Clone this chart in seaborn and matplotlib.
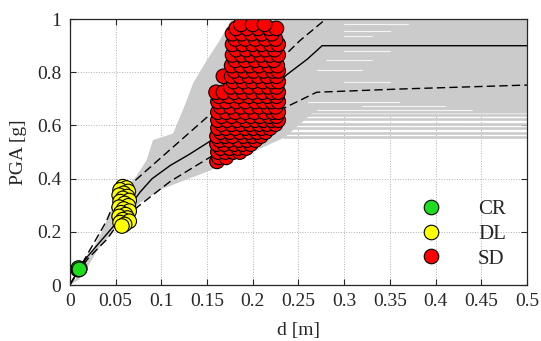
import numpy as np
import pandas as pd
import matplotlib
matplotlib.use("Agg")
import matplotlib.pyplot as plt
import seaborn as sns

# gray band of the IDA curves (outline)
env_d = [0.0, 0.008, 0.02, 0.035, 0.045, 0.058, 0.073, 0.084, 0.091, 0.113, 0.128,
         0.135, 0.15, 0.164, 0.177, 0.5, 0.5, 0.265, 0.235, 0.2, 0.153, 0.1,
         0.077, 0.06, 0.049, 0.03, 0.02, 0.01]
env_pga = [0.0, 0.03, 0.10, 0.20, 0.28, 0.35, 0.41, 0.47, 0.545, 0.57, 0.695,
           0.76, 0.846, 0.92, 1.0, 1.0, 0.645, 0.645, 0.555, 0.50, 0.43, 0.36,
           0.31, 0.25, 0.21, 0.13, 0.07, 0.02]

# curves that collapse at low PGA (horizontal tails)
low_curves_d = [[0.233, 0.5], [0.238, 0.5], [0.243, 0.5], [0.248, 0.5], [0.253, 0.5], [0.258, 0.5]]
low_curves_pga = [[0.556, 0.556], [0.571, 0.571], [0.59, 0.59], [0.605, 0.605], [0.624, 0.624], [0.64, 0.64]]

# gaps between curves inside the band
gap_pga = [0.98, 0.955, 0.935, 0.88, 0.845, 0.81, 0.765, 0.69, 0.675, 0.66]
gap_d0 = [0.30, 0.30, 0.30, 0.30, 0.28, 0.27, 0.30, 0.26, 0.32, 0.27]
gap_d1 = [0.37, 0.35, 0.33, 0.35, 0.33, 0.32, 0.35, 0.36, 0.41, 0.44]

# median and 16/84 % fractiles
med_d = [0, 0.01, 0.02, 0.04, 0.06, 0.077, 0.09, 0.11, 0.13, 0.153, 0.2, 0.237, 0.26, 0.276, 0.5]
med_pga = [0, 0.06, 0.11, 0.19, 0.27, 0.35, 0.40, 0.45, 0.49, 0.54, 0.67, 0.79, 0.85, 0.90, 0.90]
p84_d = [0, 0.01, 0.02, 0.04, 0.051, 0.077, 0.11, 0.153, 0.2, 0.237, 0.252, 0.28, 0.29]
p84_pga = [0, 0.06, 0.12, 0.24, 0.33, 0.41, 0.51, 0.64, 0.76, 0.87, 0.92, 1.0, 1.03]
p16_d = [0, 0.01, 0.02, 0.04, 0.055, 0.08, 0.11, 0.153, 0.2, 0.237, 0.252, 0.27, 0.36, 0.5]
p16_pga = [0, 0.055, 0.10, 0.17, 0.24, 0.31, 0.39, 0.48, 0.59, 0.67, 0.695, 0.725, 0.737, 0.752]

# limit state points
cr_d = [0.009, 0.010, 0.011, 0.0095, 0.0105]
cr_pga = [0.058, 0.060, 0.062, 0.064, 0.059]

dl_d = [0.058, 0.062, 0.055, 0.064, 0.059, 0.054, 0.063, 0.058, 0.065, 0.055, 0.060, 0.064,
        0.054, 0.059, 0.065, 0.056, 0.061, 0.054, 0.063, 0.058, 0.065, 0.055, 0.060, 0.057]
dl_pga = [0.370, 0.365, 0.358, 0.352, 0.345, 0.338, 0.333, 0.326, 0.318, 0.314, 0.307, 0.298,
          0.293, 0.286, 0.278, 0.272, 0.265, 0.258, 0.252, 0.246, 0.240, 0.235, 0.228, 0.222]

sd_rows = {
    0.465: [0.161],
    0.48: [0.163, 0.171],
    0.50: [0.162, 0.17, 0.179, 0.186],
    0.515: [0.165, 0.175, 0.184, 0.193],
    0.53: [0.161, 0.169, 0.18, 0.189, 0.198],
    0.545: [0.164, 0.174, 0.185, 0.194, 0.203],
    0.56: [0.161, 0.17, 0.178, 0.19, 0.2, 0.209],
    0.575: [0.165, 0.175, 0.186, 0.196, 0.205, 0.214],
    0.59: [0.162, 0.171, 0.181, 0.192, 0.201, 0.21, 0.219],
    0.605: [0.166, 0.177, 0.187, 0.197, 0.207, 0.216, 0.225],
    0.62: [0.162, 0.172, 0.183, 0.193, 0.203, 0.212, 0.221, 0.228],
    0.635: [0.166, 0.177, 0.188, 0.198, 0.208, 0.218, 0.226],
    0.65: [0.162, 0.171, 0.181, 0.192, 0.202, 0.213, 0.222, 0.228],
    0.67: [0.165, 0.176, 0.187, 0.197, 0.207, 0.217, 0.225],
    0.69: [0.162, 0.171, 0.182, 0.192, 0.203, 0.212, 0.221, 0.228],
    0.71: [0.163, 0.174, 0.185, 0.196, 0.206, 0.216, 0.226],
    0.725: [0.16, 0.168, 0.18, 0.19, 0.2, 0.211, 0.221, 0.228],
    0.745: [0.176, 0.186, 0.196, 0.207, 0.217, 0.226],
    0.765: [0.179, 0.19, 0.2, 0.211, 0.221, 0.228],
    0.785: [0.168, 0.177, 0.186, 0.196, 0.206, 0.216, 0.226],
    0.805: [0.18, 0.191, 0.201, 0.212, 0.222, 0.228],
    0.825: [0.177, 0.187, 0.197, 0.207, 0.218, 0.227],
    0.845: [0.181, 0.192, 0.203, 0.213, 0.223],
    0.865: [0.178, 0.188, 0.198, 0.209, 0.219, 0.228],
    0.885: [0.182, 0.193, 0.204, 0.214, 0.224],
    0.905: [0.178, 0.189, 0.2, 0.21, 0.22, 0.228],
    0.925: [0.181, 0.192, 0.203, 0.214, 0.225],
    0.945: [0.178, 0.188, 0.199, 0.21, 0.221],
    0.965: [0.182, 0.194, 0.206, 0.218, 0.226],
    0.98: [0.187, 0.2, 0.213],
}
sd_d = [d for row in sd_rows.values() for d in row]
sd_pga = [p for p, row in sd_rows.items() for _ in row]

states = ["CR", "DL", "SD"]
colors = {"CR": "#1fdc1f", "DL": "#ffff00", "SD": "#ff0000"}

pts = pd.DataFrame({
    "d": cr_d + dl_d + sd_d,
    "PGA": cr_pga + dl_pga + sd_pga,
    "state": ["CR"] * len(cr_d) + ["DL"] * len(dl_d) + ["SD"] * len(sd_d),
})

sns.set_style("ticks")
plt.rcParams["font.family"] = ["Liberation Serif", "DejaVu Serif"]

fig, ax = plt.subplots(figsize=(5.41, 3.41), dpi=100)
fig.subplots_adjust(left=0.129, right=0.974, bottom=0.164, top=0.944)

gray = "#cbcbcb"
ax.fill(env_d, env_pga, color=gray, lw=0, zorder=1)
for cd, cp in zip(low_curves_d, low_curves_pga):
    ax.plot(cd, cp, color=gray, lw=1.9, zorder=1, solid_capstyle="butt")
for p, d0, d1 in zip(gap_pga, gap_d0, gap_d1):
    ax.plot([d0, d1], [p, p], color="white", lw=0.8, alpha=0.8, zorder=1.1)

ax.plot(med_d, med_pga, color="black", lw=1.0, zorder=2)
ax.plot(p84_d, p84_pga, color="black", lw=1.0, ls=(0, (6, 3)), zorder=2)
ax.plot(p16_d, p16_pga, color="black", lw=1.0, ls=(0, (6, 3)), zorder=2)

sns.scatterplot(data=pts, x="d", y="PGA", hue="state", hue_order=states,
                palette=colors, s=110, edgecolor="black", linewidth=0.8,
                ax=ax, zorder=3)

ax.set_xlim(0, 0.5)
ax.set_ylim(0, 1)
ax.set_xticks(np.arange(0, 0.51, 0.05))
ax.set_xticklabels(["0", "0.05", "0.1", "0.15", "0.2", "0.25", "0.3", "0.35", "0.4", "0.45", "0.5"])
ax.set_yticks([0, 0.2, 0.4, 0.6, 0.8, 1])
ax.set_yticklabels(["0", "0.2", "0.4", "0.6", "0.8", "1"])
ax.tick_params(direction="in", top=True, right=True, labelsize=14, length=4, width=0.8, pad=6)
ax.grid(True, ls=":", color="#b0b0b0", lw=0.7)
ax.set_axisbelow(True)
for sp in ax.spines.values():
    sp.set_linewidth(0.9)
    sp.set_zorder(5)
ax.set_xlabel("d [m]", fontsize=14, labelpad=8)
ax.set_ylabel("PGA [g]", fontsize=14, labelpad=7)

ax.legend(title=None, frameon=False, loc="center left", bbox_to_anchor=(0.749, 0.192),
          borderaxespad=0, fontsize=15, handlelength=1, handletextpad=1.76,
          labelspacing=0.25, borderpad=0.4)

fig.savefig("out.png", dpi=100)
